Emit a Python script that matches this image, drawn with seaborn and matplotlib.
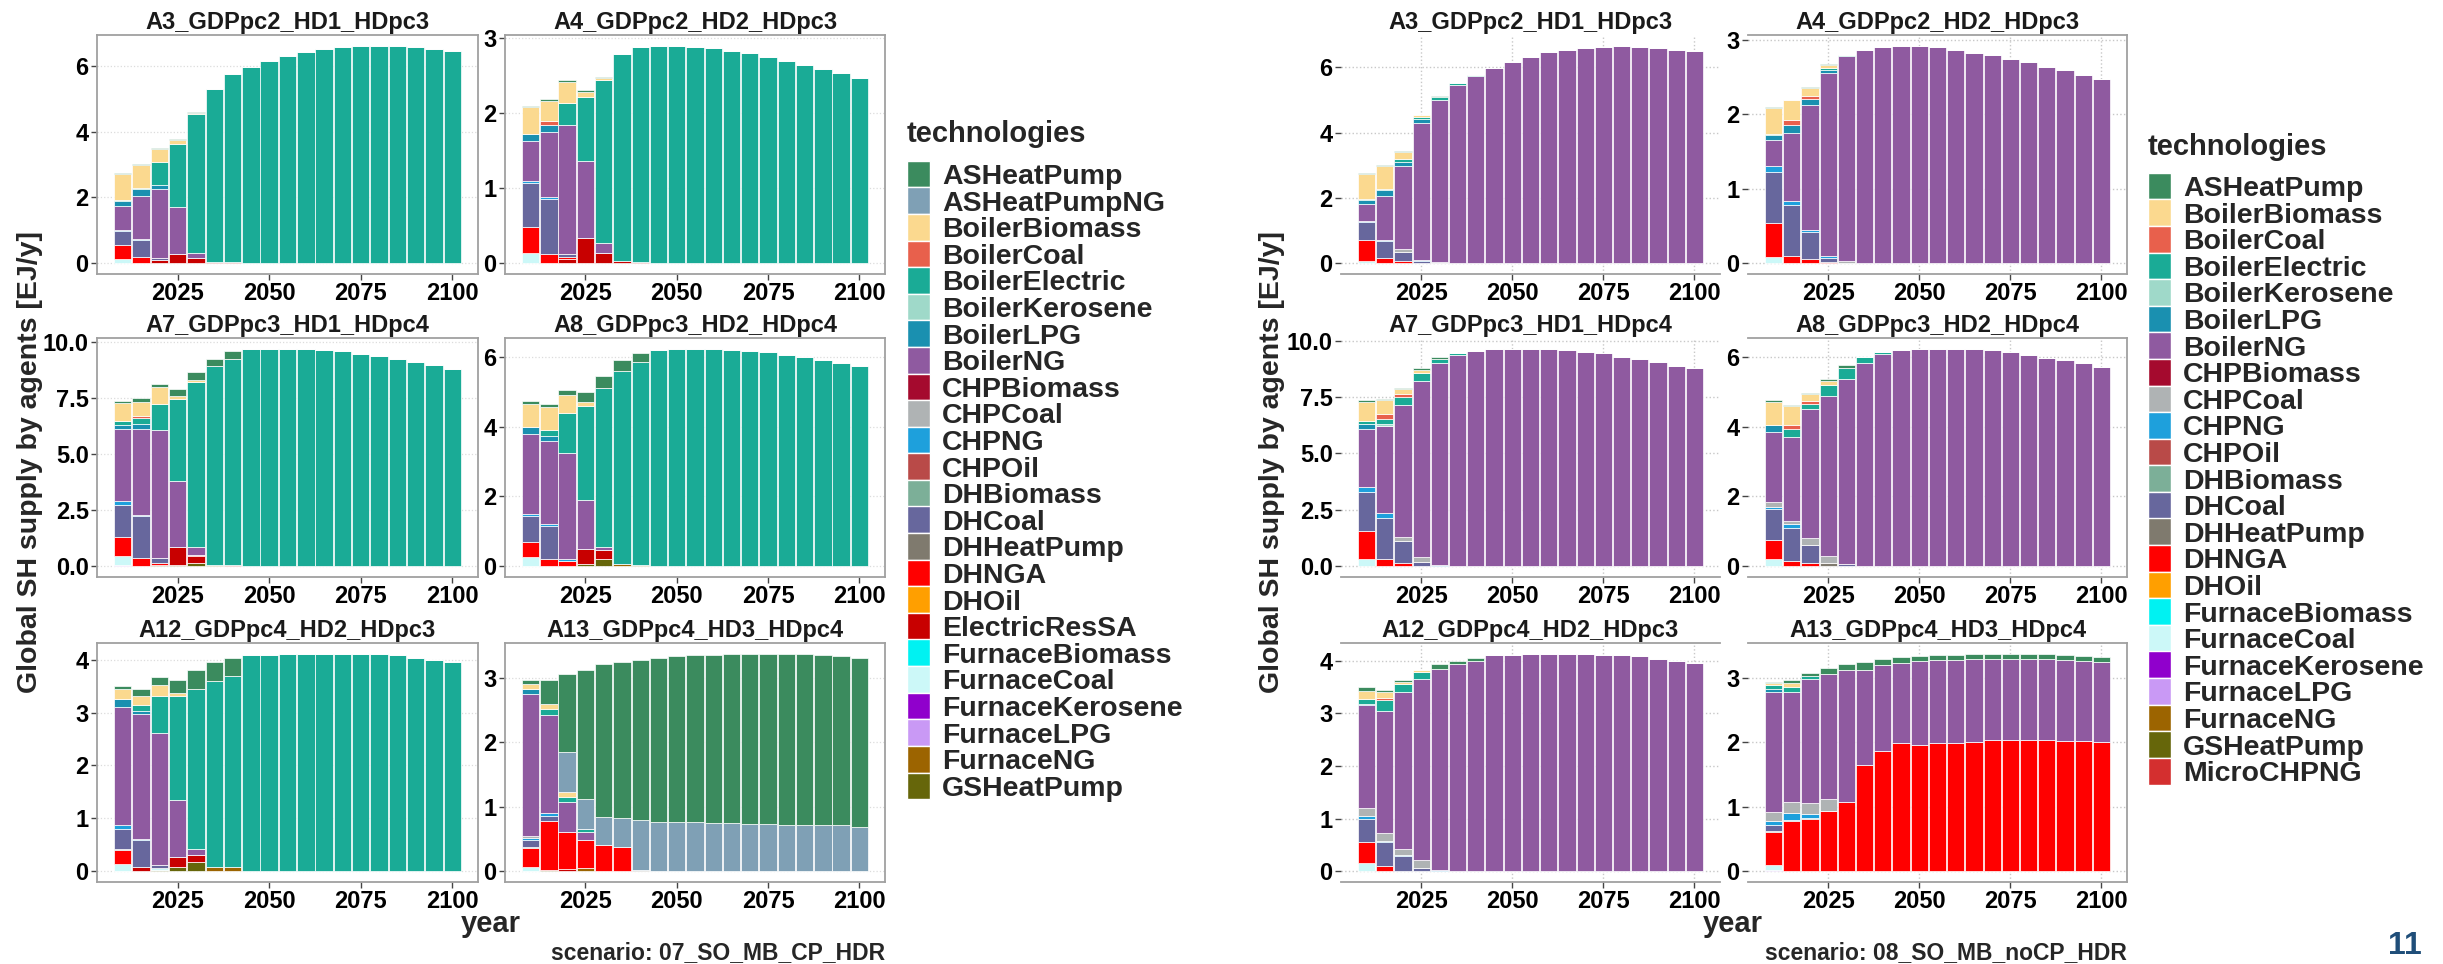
import numpy as np
import pandas as pd
import matplotlib
matplotlib.use("Agg")
import matplotlib.pyplot as plt
from matplotlib.patches import Rectangle
import seaborn as sns

# ---------------------------------------------------------------- data ----
YEARS = list(range(2010, 2101, 5))
X_TICKS = [2025, 2050, 2075, 2100]

FACETS = ["A3_GDPpc2_HD1_HDpc3", "A4_GDPpc2_HD2_HDpc3",
          "A7_GDPpc3_HD1_HDpc4", "A8_GDPpc3_HD2_HDpc4",
          "A12_GDPpc4_HD2_HDpc3", "A13_GDPpc4_HD3_HDpc4"]

Y_TICKS = {
    "A3_GDPpc2_HD1_HDpc3": [0, 2, 4, 6],
    "A4_GDPpc2_HD2_HDpc3": [0, 1, 2, 3],
    "A7_GDPpc3_HD1_HDpc4": [0.0, 2.5, 5.0, 7.5, 10.0],
    "A8_GDPpc3_HD2_HDpc4": [0, 2, 4, 6],
    "A12_GDPpc4_HD2_HDpc3": [0, 1, 2, 3, 4],
    "A13_GDPpc4_HD3_HDpc4": [0, 1, 2, 3],
}

TECH_COLORS = {
    "ASHeatPump": "#3B8B5E", "ASHeatPumpNG": "#7FA0B5",
    "BoilerBiomass": "#FBD98F", "BoilerCoal": "#E8604C",
    "BoilerElectric": "#1AAB96", "BoilerKerosene": "#9FD9C9",
    "BoilerLPG": "#1A90B0", "BoilerNG": "#8F5AA0",
    "CHPBiomass": "#A50A2E", "CHPCoal": "#AFB3B4",
    "CHPNG": "#1EA0DC", "CHPOil": "#B94A48",
    "DHBiomass": "#7CAF98", "DHCoal": "#67679D",
    "DHHeatPump": "#7F7A6E", "DHNGA": "#FF0000",
    "DHOil": "#FF9F00", "ElectricResSA": "#C80000",
    "FurnaceBiomass": "#00F2F2", "FurnaceCoal": "#CCF8F8",
    "FurnaceKerosene": "#9000CC", "FurnaceLPG": "#C999F5",
    "FurnaceNG": "#9C6400", "GSHeatPump": "#66660A",
    "MicroCHPNG": "#D42F2F",
}

TECHS_CP = ["ASHeatPump", "ASHeatPumpNG", "BoilerBiomass", "BoilerCoal",
            "BoilerElectric", "BoilerKerosene", "BoilerLPG", "BoilerNG",
            "CHPBiomass", "CHPCoal", "CHPNG", "CHPOil", "DHBiomass", "DHCoal",
            "DHHeatPump", "DHNGA", "DHOil", "ElectricResSA", "FurnaceBiomass",
            "FurnaceCoal", "FurnaceKerosene", "FurnaceLPG", "FurnaceNG",
            "GSHeatPump"]

TECHS_NOCP = ["ASHeatPump", "BoilerBiomass", "BoilerCoal", "BoilerElectric",
              "BoilerKerosene", "BoilerLPG", "BoilerNG", "CHPBiomass",
              "CHPCoal", "CHPNG", "CHPOil", "DHBiomass", "DHCoal",
              "DHHeatPump", "DHNGA", "DHOil", "FurnaceBiomass", "FurnaceCoal",
              "FurnaceKerosene", "FurnaceLPG", "FurnaceNG", "GSHeatPump",
              "MicroCHPNG"]

# Scenario 07_SO_MB_CP_HDR (EJ/y); short lists start in 2010, later years are 0
cp_a3 = {
    "ASHeatPump": [0.03, 0.04, 0.03, 0.04, 0.03],
    "BoilerBiomass": [0.80, 0.70, 0.42, 0.12, 0.03],
    "BoilerElectric": [0.03, 0.03, 0.70, 1.90, 4.25, 5.27, 5.73, 5.98, 6.17, 6.32,
                       6.43, 6.53, 6.59, 6.62, 6.62, 6.62, 6.58, 6.53, 6.47],
    "BoilerLPG": [0.15, 0.20, 0.12],
    "BoilerNG": [0.75, 1.32, 2.10, 1.44, 0.15],
    "CHPNG": [0.03, 0.03],
    "DHCoal": [0.42, 0.50, 0.05],
    "DHNGA": [0.43, 0.20],
    "ElectricResSA": [0.00, 0.00, 0.10, 0.28, 0.15, 0.03, 0.02],
    "FurnaceCoal": [0.12],
}
cp_a4 = {
    "ASHeatPump": [0.02, 0.02, 0.02, 0.03, 0.02],
    "BoilerBiomass": [0.36, 0.27, 0.28, 0.06, 0.03],
    "BoilerCoal": [0.00, 0.05],
    "BoilerElectric": [0.00, 0.00, 0.29, 0.86, 2.17, 2.76, 2.87, 2.90, 2.90, 2.89,
                       2.87, 2.83, 2.80, 2.75, 2.70, 2.65, 2.59, 2.54, 2.47],
    "BoilerLPG": [0.09, 0.10],
    "BoilerNG": [0.53, 0.87, 1.73, 1.03, 0.14],
    "CHPNG": [0.03, 0.03],
    "DHCoal": [0.59, 0.73, 0.04],
    "DHNGA": [0.34, 0.12, 0.03],
    "ElectricResSA": [0.00, 0.00, 0.05, 0.33, 0.13, 0.03, 0.02],
    "FurnaceCoal": [0.14],
}
cp_a7 = {
    "ASHeatPump": [0.08, 0.14, 0.14, 0.29, 0.36, 0.34, 0.35],
    "BoilerBiomass": [0.82, 0.65, 0.75, 0.15, 0.10],
    "BoilerCoal": [0.00, 0.10],
    "BoilerElectric": [0.15, 0.27, 1.15, 3.65, 7.35, 8.85, 9.18, 9.70, 9.70, 9.70,
                       9.70, 9.67, 9.60, 9.49, 9.38, 9.26, 9.11, 8.97, 8.82],
    "BoilerLPG": [0.19, 0.20],
    "BoilerNG": [3.21, 3.83, 5.75, 2.95, 0.35],
    "CHPNG": [0.17, 0.05],
    "DHCoal": [1.45, 1.90, 0.20],
    "DHNGA": [0.85, 0.35, 0.10, 0.00, 0.05],
    "ElectricResSA": [0.00, 0.00, 0.00, 0.80, 0.30, 0.00, 0.07],
    "FurnaceCoal": [0.40],
    "FurnaceLPG": [0.05],
    "FurnaceNG": [0.00, 0.00, 0.00, 0.00, 0.00, 0.07],
    "GSHeatPump": [0.00, 0.00, 0.05, 0.05, 0.15],
}
cp_a8 = {
    "ASHeatPump": [0.08, 0.11, 0.16, 0.28, 0.36, 0.30, 0.26],
    "BoilerBiomass": [0.65, 0.65, 0.50, 0.10],
    "BoilerElectric": [0.00, 0.18, 1.15, 2.70, 4.55, 5.54, 5.81, 6.19, 6.23, 6.23,
                       6.23, 6.21, 6.18, 6.13, 6.06, 5.99, 5.92, 5.83, 5.73],
    "BoilerLPG": [0.20, 0.12],
    "BoilerNG": [2.30, 2.40, 3.05, 1.42, 0.10],
    "CHPNG": [0.05, 0.05, 0.05],
    "DHCoal": [0.77, 0.95],
    "DHNGA": [0.43, 0.20, 0.15],
    "ElectricResSA": [0.00, 0.00, 0.00, 0.43, 0.25],
    "FurnaceCoal": [0.25],
    "FurnaceNG": [0.00, 0.00, 0.00, 0.00, 0.00, 0.06, 0.04],
    "GSHeatPump": [0.00, 0.00, 0.00, 0.05, 0.20],
}
cp_a12 = {
    "ASHeatPump": [0.05, 0.13, 0.15, 0.25, 0.36, 0.36, 0.34],
    "BoilerBiomass": [0.20, 0.17, 0.20, 0.05],
    "BoilerElectric": [0.00, 0.13, 0.70, 1.97, 3.03, 3.52, 3.62, 4.08, 4.09, 4.11,
                       4.11, 4.11, 4.11, 4.10, 4.10, 4.08, 4.04, 4.00, 3.96],
    "BoilerLPG": [0.15, 0.04],
    "BoilerNG": [2.22, 2.38, 2.50, 1.08, 0.12],
    "CHPNG": [0.08, 0.02],
    "DHCoal": [0.38, 0.50, 0.06],
    "DHHeatPump": [0.02],
    "DHNGA": [0.27],
    "ElectricResSA": [0.00, 0.08, 0.00, 0.20, 0.12],
    "FurnaceCoal": [0.13, 0.00, 0.03],
    "FurnaceNG": [0.00, 0.00, 0.00, 0.00, 0.00, 0.08, 0.08],
    "GSHeatPump": [0.00, 0.00, 0.03, 0.07, 0.18],
}
cp_a13 = {
    "ASHeatPump": [0.06, 0.37, 1.20, 2.00, 2.37, 2.42, 2.48, 2.55, 2.58, 2.59,
                   2.61, 2.62, 2.64, 2.64, 2.65, 2.65, 2.65, 2.63, 2.63],
    "ASHeatPumpNG": [0.00, 0.00, 0.63, 0.47, 0.44, 0.45, 0.77, 0.76, 0.76, 0.76,
                     0.75, 0.75, 0.73, 0.73, 0.72, 0.72, 0.71, 0.71, 0.68],
    "BoilerBiomass": [0.08, 0.08, 0.07],
    "BoilerElectric": [0.00, 0.10, 0.08, 0.05],
    "BoilerLPG": [0.07],
    "BoilerNG": [2.20, 1.52, 0.47, 0.12],
    "CHPCoal": [0.03],
    "CHPNG": [0.04, 0.05],
    "DHCoal": [0.10, 0.07],
    "DHHeatPump": [0.02, 0.00, 0.00, 0.00, 0.00, 0.00, 0.02],
    "DHNGA": [0.30, 0.76, 0.57, 0.43, 0.40, 0.37],
    "ElectricResSA": [0.00, 0.00, 0.03],
    "FurnaceCoal": [0.06],
    "FurnaceNG": [0.00, 0.00, 0.00, 0.05],
    "GSHeatPump": [0.00, 0.02],
}

# Scenario 08_SO_MB_noCP_HDR (EJ/y)
nocp_a3 = {
    "ASHeatPump": [0.03, 0.03, 0.03, 0.02, 0.03],
    "BoilerBiomass": [0.75, 0.70, 0.24, 0.05],
    "BoilerElectric": [0.02, 0.03, 0.08, 0.06, 0.10, 0.04, 0.02],
    "BoilerLPG": [0.15, 0.20, 0.12, 0.12],
    "BoilerNG": [0.50, 1.33, 2.56, 4.20, 4.95, 5.47, 5.75, 5.98, 6.18, 6.32,
                 6.47, 6.53, 6.60, 6.62, 6.66, 6.62, 6.59, 6.54, 6.49],
    "CHPCoal": [0.00, 0.00, 0.07, 0.00, 0.05],
    "CHPNG": [0.05, 0.04, 0.00, 0.02],
    "DHCoal": [0.53, 0.53, 0.29, 0.08],
    "DHNGA": [0.64, 0.15, 0.06],
    "FurnaceCoal": [0.08],
}
nocp_a4 = {
    "ASHeatPump": [0.02, 0.00, 0.02, 0.01],
    "BoilerBiomass": [0.34, 0.27, 0.10, 0.04],
    "BoilerCoal": [0.00, 0.07, 0.05],
    "BoilerElectric": [0.02, 0.00, 0.00, 0.02, 0.02],
    "BoilerLPG": [0.07, 0.10, 0.07, 0.05],
    "BoilerNG": [0.35, 0.92, 1.68, 2.45, 2.75, 2.87, 2.90, 2.92, 2.92, 2.90,
                 2.87, 2.83, 2.80, 2.75, 2.70, 2.64, 2.59, 2.53, 2.47],
    "CHPCoal": [0.00, 0.00, 0.00, 0.00, 0.03],
    "CHPNG": [0.08, 0.05, 0.03, 0.03],
    "DHCoal": [0.68, 0.68, 0.37, 0.05],
    "DHNGA": [0.46, 0.10, 0.05, 0.02],
    "FurnaceCoal": [0.08],
}
nocp_a7 = {
    "ASHeatPump": [0.08, 0.07, 0.06, 0.08, 0.06],
    "BoilerBiomass": [0.83, 0.60, 0.23, 0.17],
    "BoilerCoal": [0.00, 0.20, 0.12],
    "BoilerElectric": [0.15, 0.25, 0.35, 0.35, 0.20, 0.06, 0.03],
    "BoilerKerosene": [0.00, 0.10],
    "BoilerLPG": [0.20],
    "BoilerNG": [2.60, 3.85, 5.85, 7.80, 8.93, 9.38, 9.53, 9.63, 9.64, 9.64,
                 9.63, 9.59, 9.51, 9.44, 9.29, 9.19, 9.04, 8.90, 8.77],
    "CHPCoal": [0.00, 0.00, 0.20, 0.20],
    "CHPNG": [0.20, 0.20, 0.00, 0.00, 0.07],
    "DHCoal": [1.75, 1.85, 0.98, 0.20],
    "DHNGA": [1.25, 0.30, 0.12],
    "FurnaceCoal": [0.30],
}
nocp_a8 = {
    "ASHeatPump": [0.07, 0.04, 0.03, 0.05, 0.08],
    "BoilerBiomass": [0.65, 0.55, 0.20, 0.12],
    "BoilerCoal": [0.00, 0.10, 0.10],
    "BoilerElectric": [0.00, 0.25, 0.15, 0.30, 0.32, 0.19, 0.06],
    "BoilerLPG": [0.20],
    "BoilerNG": [2.00, 2.40, 3.70, 4.60, 5.33, 5.83, 6.08, 6.21, 6.24, 6.24,
                 6.24, 6.23, 6.21, 6.14, 6.07, 5.99, 5.91, 5.83, 5.73],
    "CHPCoal": [0.15, 0.10, 0.20, 0.20],
    "CHPNG": [0.05, 0.10],
    "DHCoal": [0.90, 0.95, 0.50, 0.00, 0.05],
    "DHHeatPump": [0.00, 0.00, 0.00, 0.10],
    "DHNGA": [0.55, 0.15, 0.10],
    "FurnaceCoal": [0.20],
}
nocp_a12 = {
    "ASHeatPump": [0.08, 0.05, 0.03, 0.00, 0.09, 0.07, 0.05],
    "BoilerBiomass": [0.14, 0.10, 0.05, 0.04],
    "BoilerCoal": [0.00, 0.05],
    "BoilerElectric": [0.10, 0.20, 0.15, 0.13],
    "BoilerLPG": [0.03],
    "BoilerNG": [1.95, 2.33, 2.97, 3.43, 3.82, 3.93, 4.00, 4.10, 4.11, 4.13,
                 4.13, 4.13, 4.13, 4.11, 4.11, 4.08, 4.03, 4.00, 3.96],
    "CHPCoal": [0.15, 0.14, 0.13, 0.16],
    "CHPNG": [0.05, 0.03, 0.02, 0.00, 0.03],
    "DHCoal": [0.45, 0.45, 0.28, 0.06],
    "DHNGA": [0.40, 0.10],
    "FurnaceCoal": [0.15],
}
nocp_a13 = {
    "ASHeatPump": [0.02, 0.04, 0.04, 0.09, 0.10, 0.13, 0.09, 0.09, 0.08, 0.08,
                   0.08, 0.08, 0.08, 0.08, 0.08, 0.08, 0.08, 0.08, 0.08],
    "BoilerBiomass": [0.04, 0.07],
    "BoilerElectric": [0.06, 0.07, 0.05],
    "BoilerLPG": [0.04],
    "BoilerNG": [1.86, 1.71, 1.93, 1.94, 2.04, 1.47, 1.33, 1.25, 1.31, 1.29,
                 1.28, 1.28, 1.26, 1.26, 1.26, 1.26, 1.25, 1.24, 1.24],
    "CHPCoal": [0.14, 0.17, 0.17, 0.19],
    "CHPNG": [0.06, 0.10, 0.05],
    "DHCoal": [0.10],
    "DHHeatPump": [0.02, 0.02, 0.02],
    "DHNGA": [0.50, 0.78, 0.81, 0.93, 1.08, 1.65, 1.87, 1.98, 1.95, 1.98,
              1.99, 2.01, 2.03, 2.03, 2.03, 2.03, 2.02, 2.02, 2.00],
    "FurnaceCoal": [0.08],
    "FurnaceLPG": [0.02],
}

SCENARIO_CP = [cp_a3, cp_a4, cp_a7, cp_a8, cp_a12, cp_a13]
SCENARIO_NOCP = [nocp_a3, nocp_a4, nocp_a7, nocp_a8, nocp_a12, nocp_a13]

# -------------------------------------------------------------- styling ---
sns.set_theme(style="white")
plt.rcParams["font.family"] = ["Liberation Sans", "DejaVu Sans"]
plt.rcParams["font.weight"] = "bold"

W, H = 2443, 964
fig = plt.figure(figsize=(W / 100, H / 100), dpi=100)
fig.patch.set_facecolor("white")


def px_rect(x0, x1, y0, y1):
    return [x0 / W, 1 - y1 / H, (x1 - x0) / W, (y1 - y0) / H]


def long_table(series, techs):
    rows = []
    for tech in techs:
        for year, value in zip(YEARS, series.get(tech, [])):
            if value > 0:
                rows.append((year, tech, value))
    return pd.DataFrame(rows, columns=["year", "tech", "value"])


def draw_panel(rect, facet, series, techs, style, spines):
    ax = fig.add_axes(rect)
    df = long_table(series, techs)
    present = [t for t in techs if t in set(df["tech"])]
    sns.histplot(data=df, x="year", weights="value", hue="tech",
                 hue_order=present, palette=TECH_COLORS, multiple="stack",
                 binwidth=5, binrange=(2007.5, 2102.5), shrink=0.95, alpha=1,
                 edgecolor="white", linewidth=0.5, legend=False, ax=ax)
    top = df.groupby("year")["value"].sum().max()
    ax.set_ylim(-0.05 * top, 1.05 * top)
    ax.set_xlim(2003.0, 2107.0)
    ticks = Y_TICKS[facet]
    ax.set_xticks(X_TICKS)
    ax.set_xticklabels([str(t) for t in X_TICKS])
    ax.set_yticks(ticks)
    fmt = "{:.1f}" if any(isinstance(t, float) for t in ticks) else "{:d}"
    ax.set_yticklabels([fmt.format(t) for t in ticks])
    ax.set_xlabel("")
    ax.set_ylabel("")
    ax.tick_params(axis="both", which="major", labelsize=17, length=4,
                   width=1, color="#444444", labelcolor="black", pad=2,
                   bottom=True, left=True)
    for lbl in ax.get_xticklabels() + ax.get_yticklabels():
        lbl.set_fontweight("bold")
    ax.set_title(facet, fontsize=17, fontweight="bold", pad=4.6,
                 color="#1a1a1a")
    ax.set_axisbelow(True)
    if style == "boxed":
        ax.grid(axis="y", color="#dcdcdc", linestyle=":", linewidth=0.9)
        ax.grid(axis="x", visible=False)
    else:
        ax.grid(axis="both", color="#c8c8c8", linestyle=":", linewidth=1.0)
    for side, sp in ax.spines.items():
        sp.set_visible(side in spines)
        sp.set_color("#a0a0a0")
        sp.set_linewidth(1.3)
    return ax


COLS_L = [(97, 478), (505, 885)]
COLS_R = [(1341, 1720), (1748, 2127)]
ROWS = [(35, 274), (338, 577), (643, 882)]

ALL = {"left", "right", "top", "bottom"}
for i, facet in enumerate(FACETS):
    r, c = divmod(i, 2)
    draw_panel(px_rect(*COLS_L[c], *ROWS[r]), facet, SCENARIO_CP[i],
               TECHS_CP, "boxed", ALL)
    if c == 1:
        sp_right = {"top", "right", "bottom"}
    elif r == 2:
        sp_right = {"top", "bottom"}
    else:
        sp_right = {"bottom"}
    draw_panel(px_rect(*COLS_R[c], *ROWS[r]), facet, SCENARIO_NOCP[i],
               TECHS_NOCP, "open", sp_right)


def add_legend(techs, x_key, y_title, y_first, pitch=26.6):
    """Colour-key column with a bold title, one row per technology."""
    fig.text(x_key / W, 1 - y_title / H, "technologies", ha="left",
             va="center", fontsize=21, fontweight="bold")
    for k, tech in enumerate(techs):
        yc = y_first + k * pitch
        fig.add_artist(Rectangle((x_key / W, 1 - (yc + pitch / 2) / H),
                                 23 / W, pitch / H, transform=fig.transFigure,
                                 facecolor=TECH_COLORS[tech],
                                 edgecolor="white", linewidth=1.0))
        fig.text((x_key + 35) / W, 1 - (yc + 10) / H, tech, ha="left",
                 va="baseline", fontsize=20.5, fontweight="bold")


add_legend(TECHS_CP, 907, 134, 174)
add_legend(TECHS_NOCP, 2148, 147, 186)

ylab = "Global SH supply by agents [EJ/y]"
fig.text(30 / W, 1 - 462 / H, ylab, rotation=90, ha="center", va="center",
         fontsize=20.5, fontweight="bold")
fig.text(1272 / W, 1 - 462 / H, ylab, rotation=90, ha="center", va="center",
         fontsize=20.5, fontweight="bold")
fig.text(491 / W, 1 - 924 / H, "year", ha="center", va="center",
         fontsize=21, fontweight="bold")
fig.text(1733 / W, 1 - 924 / H, "year", ha="center", va="center",
         fontsize=21, fontweight="bold")
fig.text(885 / W, 1 - 953 / H, "scenario: 07_SO_MB_CP_HDR", ha="right",
         va="center", fontsize=16.5, fontweight="bold")
fig.text(2127 / W, 1 - 953 / H, "scenario: 08_SO_MB_noCP_HDR", ha="right",
         va="center", fontsize=16.5, fontweight="bold")
fig.text(2405 / W, 1 - 961 / H, "11", ha="center", va="bottom",
         fontsize=23, fontweight="bold", color="#1F4E79")

fig.savefig("out.png", dpi=100, facecolor="white")
